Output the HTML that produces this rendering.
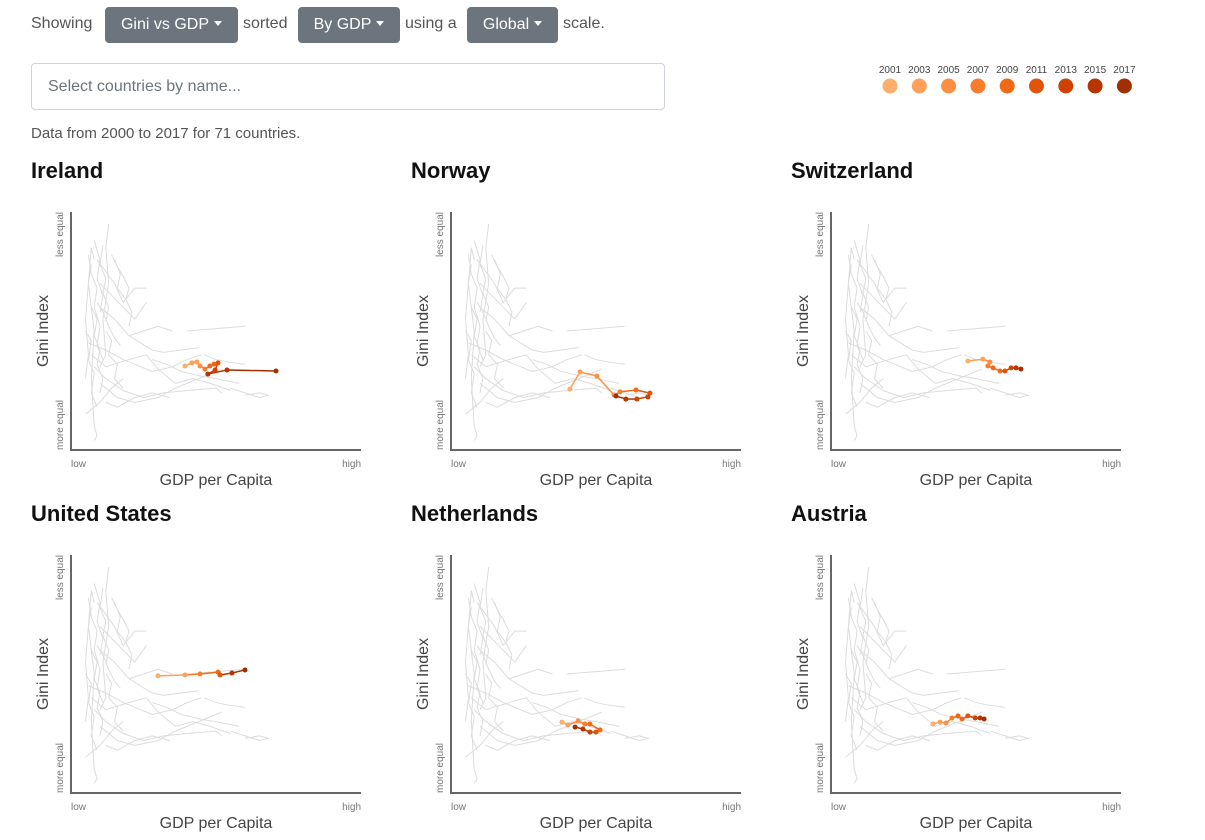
<!DOCTYPE html>
<html><head><meta charset="utf-8">
<style>
body{margin:0;width:1205px;height:840px;background:#fff;font-family:"Liberation Sans",sans-serif;color:#444;position:relative;overflow:hidden}
.t{position:absolute;font-size:16px;color:#555}
.btn{position:absolute;top:7px;height:36px;background:#6c757d;color:#fff;border-radius:4px;font-size:16px;line-height:36px;text-align:center}
.btn:after{content:"";display:inline-block;margin-left:5px;vertical-align:3px;border-left:4px solid transparent;border-right:4px solid transparent;border-top:5px solid #fff}
#search{position:absolute;left:31px;top:63px;height:47px;border:1px solid #ced4da;border-radius:4px;font-size:16px;color:#6c757d;line-height:46px;padding-left:16px;box-sizing:border-box;width:634px}
svg{position:absolute;left:0;top:0}
</style></head><body>
<div class="t" style="left:31px;top:15px">Showing</div>
<div class="btn" style="left:105px;width:133px">Gini vs GDP</div>
<div class="t" style="left:243px;top:15px">sorted</div>
<div class="btn" style="left:298px;width:102px">By GDP</div>
<div class="t" style="left:405px;top:15px">using a</div>
<div class="btn" style="left:467px;width:91px">Global</div>
<div class="t" style="left:563px;top:15px">scale.</div>
<div id="search">Select countries by name...</div>
<div class="t" style="left:31px;top:125px;font-size:15px">Data from 2000 to 2017 for 71 countries.</div>
<svg id="chart" width="1205" height="840"></svg>
<script>
const legendYears=["2001","2003","2005","2007","2009","2011","2013","2015","2017"];
const palette=["#fdae6b","#fda05a","#fd8f44","#f77d2d","#ef6a17","#e2540a","#cf4204","#b63503","#a03003"];
const countries=["Ireland","Norway","Switzerland","United States","Netherlands","Austria"];
const gdpIreland=[39.3,41.7,43.4,44.5,46.2,47.9,49.3,50.7,49.7,47.2,53.8,70.7];
const giniIreland=[35.3,36.6,37.0,35.3,34.0,35.3,36.1,36.6,33.6,31.9,33.6,33.2];
const gdpNorway=[41.0,44.5,50.3,56.2,58.3,63.8,68.6,67.9,64.1,60.3,56.9];
const giniNorway=[25.6,32.8,31.1,23.1,24.4,25.2,23.9,22.3,21.4,21.4,22.7];
const gdpSwitzerland=[47.2,52.4,54.8,54.1,55.9,58.3,60.0,62.1,63.8,65.5];
const giniSwitzerland=[37.4,38.2,37.0,35.3,34.5,33.2,33.2,34.5,34.5,34.0];
const gdpUS=[30.0,39.3,44.5,50.7,51.4,55.5,60.0];
const giniUS=[49.2,49.6,50.0,50.8,49.6,50.4,51.7];
const gdpNetherlands=[38.3,40.3,43.8,46.2,47.9,51.4,50.0,47.9,45.5,42.8];
const giniNetherlands=[29.8,28.6,30.3,29.0,29.0,26.5,25.6,25.6,26.9,27.7];
const gdpAustria=[35.2,37.6,39.7,41.7,43.8,45.2,47.2,49.7,51.4,52.8];
const giniAustria=[29.0,29.8,29.4,31.5,32.4,31.1,32.4,31.5,31.5,31.1];
const bgLines=[
[[8,4],[9,6],[8,10],[7,30],[8,50],[6,70],[7,85],[8,80]],
[[13,95],[12,85],[13,70],[11,55],[12,40],[10,35]],
[[5,30],[6,40],[5,55],[6,70],[7,78]],
[[9,80],[12,75],[15,70],[18,62],[22,68],[26,68]],
[[10,70],[14,65],[18,60],[22,55],[26,62]],
[[10,60],[15,55],[20,48],[25,50],[30,52],[35,50]],
[[40,50],[50,51],[60,52]],
[[6,45],[12,42],[18,38],[22,36],[28,33],[35,35],[40,38],[45,40]],
[[8,35],[12,30],[18,25],[25,22],[32,24],[40,25],[50,26],[52,24]],
[[10,28],[16,22],[22,20],[30,22],[36,26],[44,30],[52,34]],
[[7,40],[12,35],[20,38],[26,40],[30,34],[36,28],[42,30],[48,28],[55,25]],
[[55,26],[60,24],[65,22],[68,23],[65,24],[60,23]],
[[20,48],[24,45],[28,42],[32,41],[38,42],[44,43]],
[[9,62],[11,58],[13,52],[15,47],[17,44]],
[[12,20],[16,18],[22,22],[28,24],[34,22]],
[[14,82],[16,77],[18,73],[20,68],[19,64]],
[[46,40],[50,38],[54,37],[60,36]],
[[28,38],[33,36],[38,33],[45,31],[50,30],[58,28]],
[[5,15],[10,20],[14,26],[18,30]],
[[8,88],[10,80],[9,72],[11,65],[10,58]],
[[6,82],[7,74],[9,68],[8,60],[10,52],[9,44],[11,38]],
[[11,86],[10,78],[12,72],[11,66],[13,60],[12,54]],
[[7,60],[9,55],[8,48],[10,42],[9,36],[11,30],[10,24]],
[[15,80],[17,74],[16,68],[19,63],[21,58],[20,52]],
[[12,50],[14,46],[13,40],[16,36],[15,30],[18,26]],
[[5,50],[7,46],[6,38],[8,32],[7,24],[9,18]]
];
const series=[[gdpIreland,giniIreland],[gdpNorway,giniNorway],[gdpSwitzerland,giniSwitzerland],[gdpUS,giniUS],[gdpNetherlands,giniNetherlands],[gdpAustria,giniAustria]];
const NS="http://www.w3.org/2000/svg";
const svg=document.getElementById('chart');
function mk(tag,attrs,parent,text){const e=document.createElementNS(NS,tag);for(const k in attrs)e.setAttribute(k,attrs[k]);if(text!==undefined)e.textContent=text;(parent||svg).appendChild(e);return e;}
legendYears.forEach((y,i)=>{
  const cx=890+i*29.3;
  const t=mk('text',{x:cx,y:73,'font-size':10,'text-anchor':'middle',fill:'#444'},svg,y);
  
  
  const c=mk('circle',{cx:cx,cy:86,r:7.5,fill:palette[i]});
  
  
});
countries.forEach((name,ci)=>{
  const ox=31+(ci%3)*380, oy=Math.floor(ci/3)*343;
  const x0=ox+40, x1=ox+330, yb=oy+450, yt=oy+212;
  const sx=v=>x0+v/100*(x1-x0), sy=v=>yb-v/100*(yb-yt);
  const g=mk('g',{});
  
  
  const tt=mk('text',{x:ox,y:oy+178,'font-size':22,'font-weight':'bold',fill:'#111'},g,name);
  
  
  bgLines.forEach(l=>{
    const p=mk('polyline',{points:l.map(d=>sx(d[0])+','+sy(d[1])).join(' '),fill:'none',stroke:'#dcdcdc','stroke-width':1},g);
    
    
  });
  const ax=mk('path',{d:`M${x0} ${yt}V${yb}H${x1}`,fill:'none',stroke:'#666','stroke-width':2},g);
  
  
  const lo=mk('text',{x:x0,y:yb+17,'font-size':10,fill:'#777'},g,'low');
  
  const hi=mk('text',{x:x1,y:yb+17,'font-size':10,fill:'#777','text-anchor':'end'},g,'high');
  
  const xt=mk('text',{x:(x0+x1)/2,y:yb+35,'font-size':16,fill:'#444','text-anchor':'middle'},g,'GDP per Capita');
  
  const yT=mk('text',{x:0,y:0,'font-size':16,fill:'#444','text-anchor':'middle',transform:`translate(${ox+17},${(yt+yb)/2}) rotate(-90)`},g,'Gini Index');
  
  const le=mk('text',{x:0,y:0,'font-size':10,fill:'#777','text-anchor':'end',transform:`translate(${x0-8},${yt}) rotate(-90)`},g,'less equal');
  
  const me=mk('text',{x:0,y:0,'font-size':10,fill:'#777','text-anchor':'start',transform:`translate(${x0-8},${yb}) rotate(-90)`},g,'more equal');
  
  const [gx,gy]=series[ci];const n=gx.length;
  const col=i=>palette[Math.min(8,Math.round(i/(n-1)*8))];
  for(let i=1;i<n;i++){
    const s=mk('line',{x1:sx(gx[i-1]),y1:sy(gy[i-1]),x2:sx(gx[i]),y2:sy(gy[i]),stroke:col(i),'stroke-width':1.5},g);
    
    
  }
  for(let i=0;i<n;i++){
    const c=mk('circle',{cx:sx(gx[i]),cy:sy(gy[i]),r:2.5,fill:col(i)},g);
    
    
  }
});
</script>
</body></html>
